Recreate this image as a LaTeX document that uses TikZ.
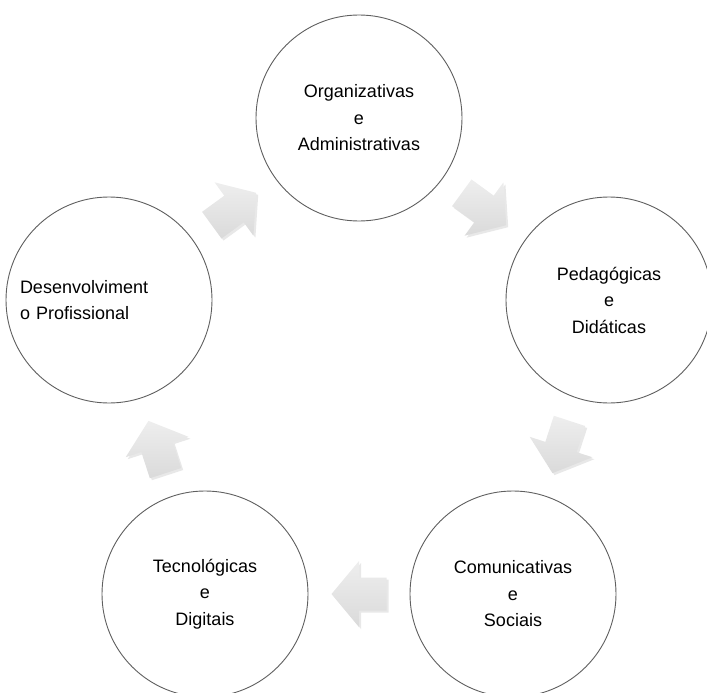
\documentclass[tikz,border=0pt]{standalone}
\usepackage{fontspec}
\setmainfont{Liberation Sans}
\usetikzlibrary{calc,shadows}
\definecolor{Cline}{RGB}{95,95,95}
\definecolor{Ctop}{RGB}{238,238,238}
\definecolor{Cbot}{RGB}{218,218,218}
\tikzset{
  ring/.style={circle, draw=Cline, line width=0.9pt, fill=white,
    minimum size=206pt, inner sep=0pt, align=center,
    font=\fontsize{18}{26.5}\selectfont},
  arrowbox/.style={top color=Ctop, bottom color=Cbot,
    drop shadow={opacity=0.18, shadow xshift=2pt, shadow yshift=-2pt}}
}
\newcommand{\Carrow}[3]{%
    \coordinate (#1) at ($(#2)!0.5!(#3)$);
    \path[arrowbox]
      ($(#1)!-27.5pt!(#3)!16.5pt!90:(#3)$) --
      ($(#1)!16.5pt!90:(#3)$) --
      ($(#1)!33pt!90:(#3)$) --
      ($(#1)!27.5pt!(#3)$) --
      ($(#1)!33pt!-90:(#3)$) --
      ($(#1)!16.5pt!-90:(#3)$) --
      ($(#1)!-27.5pt!(#3)!16.5pt!-90:(#3)$) -- cycle;
  }

\begin{document}
\begin{tikzpicture}[x=1pt,y=-1pt]
  \useasboundingbox (0,0) rectangle (707,693);
  \clip (0,0) rectangle (707,693);

  % the five circles of the cycle
  \node[ring] (org) at (359,118) {Organizativas\\e\\Administrativas};
  \node[ring] (ped) at (609,300) {Pedagógicas\\e\\Didáticas};
  \node[ring] (com) at (513,594) {Comunicativas\\e\\Sociais};
  \node[ring] (tec) at (205,594) {Tecnológicas\\e\\Digitais};
  \node[ring, align=left, text width=178pt] (dev) at (109,300)
    {Desenvolviment\\o Profissional};

  % block arrows between neighbours
  \Carrow{a1}{org}{ped}
  \Carrow{a2}{ped}{com}
  \Carrow{a3}{com}{tec}
  \Carrow{a4}{tec}{dev}
  \Carrow{a5}{dev}{org}
\end{tikzpicture}
\end{document}
